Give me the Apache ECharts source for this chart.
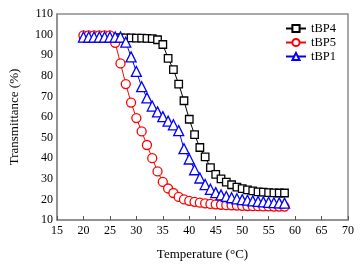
<!DOCTYPE html>
<html>
<head>
<meta charset="utf-8">
<script src="https://cdn.jsdelivr.net/npm/echarts@6/dist/echarts.min.js"></script>
<style>
  html, body { margin: 0; padding: 0; background: #fff; }
  #chart { width: 364px; height: 266px; }
</style>
</head>
<body>
<div id="chart"></div>
<script>
// temperatures (°C)
const temps = [20, 21, 22, 23, 24, 25, 26, 27, 28, 29, 30, 31, 32, 33, 34, 35, 36, 37, 38, 39,
  40, 41, 42, 43, 44, 45, 46, 47, 48, 49, 50, 51, 52, 53, 54, 55, 56, 57, 58]

// transmittance (%)
const tBP4 = [98.4, 98.4, 98.4, 98.4, 98.4, 98.4, 98.4, 98.4, 98.4, 98.4, 98.3, 98.3, 98.2, 98.0, 97.5, 95.2, 88.5, 83.0, 76.0, 67.9,
  58.9, 51.4, 45.2, 40.6, 35.4, 32.1, 30.0, 28.4, 27.1, 26.0, 25.2, 24.6, 24.1, 23.7, 23.5, 23.3, 23.2, 23.1, 23.1]
const tBP5 = [99.6, 99.6, 99.6, 99.6, 99.6, 99.6, 96.0, 86.0, 76.0, 67.0, 59.5, 53.0, 46.4, 40.0, 33.6, 28.5, 25.3, 23.1, 21.2, 20.0,
  19.3, 18.8, 18.4, 18.1, 17.8, 17.6, 17.4, 17.2, 17.1, 17.0, 16.9, 16.8, 16.7, 16.7, 16.6, 16.6, 16.5, 16.5, 16.5]
const tBP1 = [98.8, 98.8, 98.8, 98.8, 98.8, 98.8, 98.8, 98.8, 96.3, 89.2, 82.1, 74.7, 69.3, 65.3, 62.5, 60.2, 58.0, 56.2, 53.4, 44.6,
  39.6, 34.4, 30.4, 27.2, 24.9, 23.3, 22.2, 21.4, 20.8, 20.3, 19.9, 19.6, 19.3, 19.0, 18.8, 18.6, 18.4, 18.3, 18.2]

const pairs = (ys) => temps.map((t, i) => [t, ys[i]])

const font = 'Liberation Serif'
const chart = echarts.init(document.getElementById('chart'))

const mkSeries = (name, ys, symbol, size, color) => ({
  name,
  type: 'line',
  data: pairs(ys),
  symbol,
  symbolSize: size,
  showAllSymbol: true,
  lineStyle: { color, width: 1 },
  itemStyle: { color: '#fff', borderColor: color, borderWidth: 1.3 },
  emphasis: { disabled: true },
  animation: false
})

chart.setOption({
  animation: false,
  grid: {
    left: 55, right: 16, top: 14, bottom: 44,
    show: true, borderColor: '#8c8c8c', borderWidth: 1.5, backgroundColor: 'transparent'
  },
  legend: {
    right: 23, top: 17,
    orient: 'vertical',
    itemWidth: 20, itemHeight: 9, itemGap: 1,
    textStyle: { fontFamily: font, fontSize: 12.5, color: '#000' },
    data: ['tBP4', 'tBP5', 'tBP1']
  },
  xAxis: {
    type: 'value', min: 15, max: 70, interval: 5,
    name: 'Temperature (°C)', nameLocation: 'middle', nameGap: 28,
    nameTextStyle: { fontFamily: font, fontSize: 13, color: '#000' },
    axisLine: { lineStyle: { color: '#8c8c8c', width: 1.5 } },
    axisTick: { inside: true, length: 4, lineStyle: { color: '#555', width: 1 } },
    axisLabel: { fontFamily: font, fontSize: 12, color: '#000', margin: 5 },
    splitLine: { show: false }
  },
  yAxis: {
    type: 'value', min: 10, max: 110, interval: 10,
    name: 'Transmittance (%)', nameLocation: 'middle', nameGap: 36,
    nameTextStyle: { fontFamily: font, fontSize: 13, color: '#000' },
    axisLine: { show: true, lineStyle: { color: '#8c8c8c', width: 1.5 } },
    axisTick: { show: false },
    axisLabel: { fontFamily: font, fontSize: 12, color: '#000', margin: 4 },
    splitLine: { show: false }
  },
  series: [
    mkSeries('tBP4', tBP4, 'rect', 7.5, '#000'),
    mkSeries('tBP5', tBP5, 'circle', 9, '#ff0000'),
    mkSeries('tBP1', tBP1, 'triangle', 10, '#0000ff')
  ]
})
</script>
</body>
</html>
